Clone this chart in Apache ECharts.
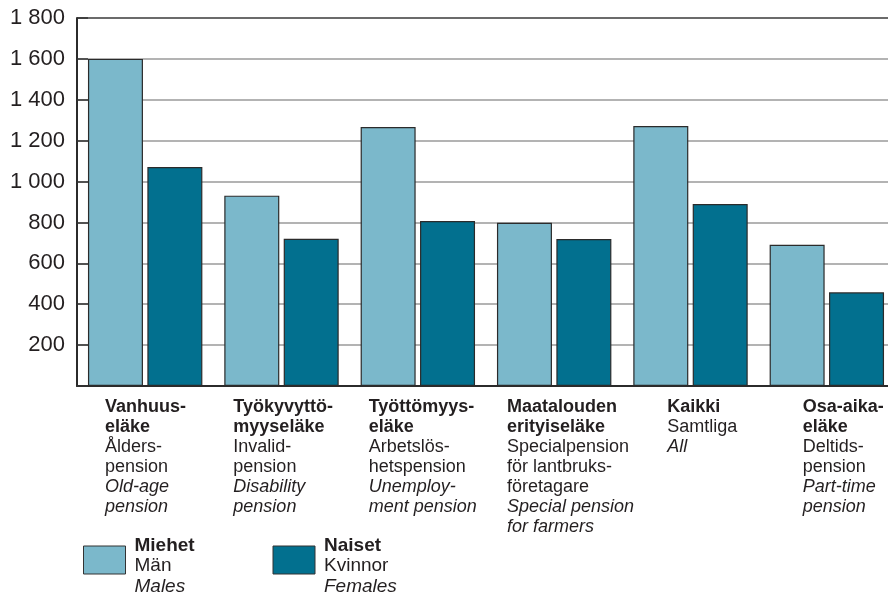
<!DOCTYPE html>
<html>
<head>
<meta charset="utf-8">
<script src="https://cdn.jsdelivr.net/npm/echarts@6/dist/echarts.min.js"></script>
<style>
  html, body { margin: 0; padding: 0; background: #fff; }
  #chart { width: 888px; height: 594px; }
</style>
</head>
<body>
<div id="chart"></div>
<script>
// category labels: Finnish (bold), Swedish, English (italic)
const catFi = [['Vanhuus-', 'eläke'], ['Työkyvyttö-', 'myyseläke'], ['Työttömyys-', 'eläke'], ['Maatalouden', 'erityiseläke'], ['Kaikki'], ['Osa-aika-', 'eläke']]
const catSv = [['Ålders-', 'pension'], ['Invalid-', 'pension'], ['Arbetslös-', 'hetspension'], ['Specialpension', 'för lantbruks-', 'företagare'], ['Samtliga'], ['Deltids-', 'pension']]
const catEn = [['Old-age', 'pension'], ['Disability', 'pension'], ['Unemploy-', 'ment pension'], ['Special pension', 'for farmers'], ['All'], ['Part-time', 'pension']]

const legendFi = ['Miehet', 'Naiset']
const legendSv = ['Män', 'Kvinnor']
const legendEn = ['Males', 'Females']

const males = [1600, 931, 1267, 798, 1272, 691]
const females = [1071, 720, 807, 719, 890, 458]

const yMin = 0
const yMax = 1800
const yStep = 200

// layout: how far each label block sits from the left edge of its band
const labelIndent = [28, 20, 19, 21, 45, 44]

const font = '"Liberation Sans", Arial, sans-serif'
const textColor = '#231f20'

const chart = echarts.init(document.getElementById('chart'), null, { renderer: 'canvas' })

const richCat = {
  b: { fontFamily: font, fontSize: 18, fontWeight: 'bold', lineHeight: 20, color: textColor },
  r: { fontFamily: font, fontSize: 18, lineHeight: 20, color: textColor },
  i: { fontFamily: font, fontSize: 18, fontStyle: 'italic', lineHeight: 20, color: textColor }
}
labelIndent.forEach((w, k) => {
  richCat['s' + k] = { width: w, fontSize: 18, lineHeight: 20 }
})

const fmtThousands = (v) => {
  if (v === 0) return ''
  if (v >= 1000) return Math.floor(v / 1000) + ' ' + String(v % 1000).padStart(3, '0')
  return String(v)
}

const splitColors = []
for (let v = yMin; v <= yMax; v += yStep) splitColors.push(v === yMax ? '#3a3a3a' : '#9a9a9a')

chart.setOption({
  animation: false,
  backgroundColor: '#fff',
  grid: {
    left: 77,
    top: 18,
    width: 818,
    bottom: 208,
    outerBoundsMode: 'none'
  },
  legend: {
    data: legendFi,
    left: 83,
    top: 536,
    padding: 0,
    itemGap: 66,
    itemWidth: 42,
    itemHeight: 28,
    icon: 'rect',
    itemStyle: { borderColor: '#333', borderWidth: 1 },
    textStyle: {
      padding: [12, 0, 0, 4],
      rich: {
        b: { fontFamily: font, fontSize: 19, fontWeight: 'bold', lineHeight: 20.5, color: textColor, width: 72 },
        r: { fontFamily: font, fontSize: 19, lineHeight: 20.5, color: textColor, width: 72 },
        i: { fontFamily: font, fontSize: 19, fontStyle: 'italic', lineHeight: 20.5, color: textColor, width: 72 }
      }
    },
    formatter: (name) => {
      const k = legendFi.indexOf(name)
      return `{b|${name}}\n{r|${legendSv[k]}}\n{i|${legendEn[k]}}`
    }
  },
  xAxis: [
    {
      type: 'category',
      position: 'bottom',
      data: catFi.map((l) => l.join('')),
      axisLine: { show: true, lineStyle: { color: '#2b2b2b', width: 2 } },
      axisTick: { show: false },
      axisLabel: { show: false },
      splitLine: { show: false }
    },
    {
      // label-only axis, its ticks sit on the band edges
      type: 'category',
      position: 'bottom',
      boundaryGap: false,
      data: ['0', '1', '2', '3', '4', '5', '6'],
      axisLine: { show: false },
      axisTick: { show: false },
      splitLine: { show: false },
      axisLabel: {
        interval: 0,
        align: 'left',
        verticalAlign: 'top',
        margin: 11,
        rich: richCat,
        formatter: (v, idx) => {
          if (idx >= catFi.length) return ''
          const sp = `{s${idx}| }`
          const lines = []
          catFi[idx].forEach((t) => lines.push(`${sp}{b|${t}}`))
          catSv[idx].forEach((t) => lines.push(`${sp}{r|${t}}`))
          catEn[idx].forEach((t) => lines.push(`${sp}{i|${t}}`))
          return lines.join('\n')
        }
      }
    }
  ],
  yAxis: {
    type: 'value',
    min: yMin,
    max: yMax,
    interval: yStep,
    axisLine: { show: true, lineStyle: { color: '#2b2b2b', width: 2 } },
    axisTick: { show: true, inside: true, length: 11, lineStyle: { color: '#333', width: 1.5 } },
    axisLabel: {
      fontFamily: font,
      fontSize: 22,
      color: textColor,
      margin: 12,
      formatter: fmtThousands
    },
    splitLine: { show: true, lineStyle: { color: splitColors, width: 1.5 } }
  },
  series: [
    {
      name: legendFi[0],
      type: 'bar',
      xAxisIndex: 0,
      data: males,
      barWidth: 55,
      barGap: '8%',
      itemStyle: { color: '#7bb8cb', borderColor: '#2b2b2b', borderWidth: 1.2 }
    },
    {
      name: legendFi[1],
      type: 'bar',
      xAxisIndex: 0,
      data: females,
      barWidth: 55,
      barGap: '8%',
      itemStyle: { color: '#02708f', borderColor: '#2b2b2b', borderWidth: 1.2 }
    }
  ]
})
</script>
</body>
</html>
